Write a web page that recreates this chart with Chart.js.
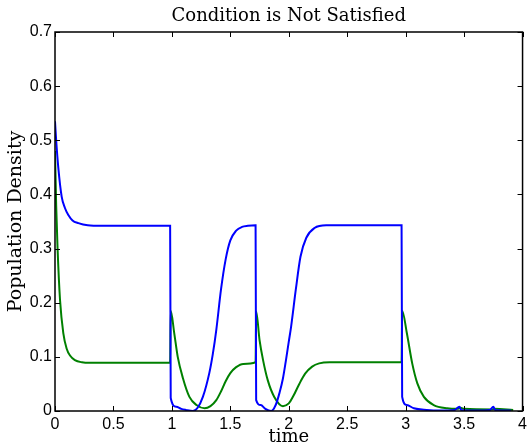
<!DOCTYPE html>
<html>
<head>
<meta charset="utf-8">
<script src="https://cdn.jsdelivr.net/npm/chart.js@4.4.0/dist/chart.umd.min.js"></script>
<style>
  html, body { margin: 0; padding: 0; background: #fff; }
  canvas { display: block; }
</style>
</head>
<body>
<canvas id="grafico" width="531" height="445"></canvas>
<script>
// tiempos y valores
const blueT = [0, 0.01, 0.028, 0.057, 0.085, 0.114, 0.15, 0.2, 0.28, 0.4, 0.985,
  0.99, 1.037, 1.08, 1.12, 1.18, 1.22, 1.265, 1.32, 1.35, 1.38, 1.42, 1.46, 1.5, 1.55, 1.6, 1.65, 1.716,
  1.721, 1.76, 1.8, 1.85, 1.89, 1.92, 1.95, 1.976, 2.0, 2.02, 2.06, 2.1, 2.15, 2.22, 2.32, 2.965,
  2.97, 3.01, 3.07, 3.18, 3.3, 3.42, 3.46, 3.475, 3.6, 3.72, 3.75, 3.765, 3.9];
const blueY = [0.535, 0.5, 0.45, 0.396, 0.375, 0.362, 0.352, 0.347, 0.343, 0.342, 0.342,
  0.024, 0.008, 0.004, 0.002, 0.0, 0.006, 0.026, 0.07, 0.105, 0.15, 0.224, 0.28, 0.315, 0.333, 0.34, 0.342, 0.343,
  0.02, 0.011, 0.004, 0.0, 0.012, 0.033, 0.06, 0.094, 0.128, 0.156, 0.224, 0.285, 0.32, 0.338, 0.343, 0.343,
  0.026, 0.011, 0.005, 0.002, 0.001, 0.002, 0.008, 0.002, 0.001, 0.002, 0.008, 0.002, 0.001];

const greenT = [0, 0.01, 0.022, 0.043, 0.071, 0.1, 0.13, 0.17, 0.23, 0.3, 0.985,
  0.99, 1.02, 1.05, 1.094, 1.15, 1.21, 1.28, 1.33, 1.38, 1.42, 1.46, 1.5, 1.55, 1.61, 1.716,
  1.721, 1.75, 1.78, 1.82, 1.876, 1.95, 2.0, 2.04, 2.09, 2.14, 2.2, 2.26, 2.35, 2.965,
  2.97, 3.01, 3.056, 3.1, 3.156, 3.24, 3.355, 3.45, 3.47, 3.5, 3.75, 3.76, 3.92];
const greenY = [0.48, 0.38, 0.3, 0.205, 0.144, 0.115, 0.102, 0.094, 0.09, 0.089, 0.089,
  0.185, 0.144, 0.1, 0.061, 0.026, 0.011, 0.005, 0.009, 0.02, 0.036, 0.055, 0.07, 0.081, 0.087, 0.09,
  0.184, 0.131, 0.094, 0.057, 0.026, 0.009, 0.014, 0.028, 0.05, 0.069, 0.082, 0.088, 0.09, 0.09,
  0.185, 0.144, 0.088, 0.051, 0.026, 0.011, 0.005, 0.004, 0.006, 0.004, 0.003, 0.004, 0.002];

const xTicks = [0, 0.5, 1, 1.5, 2, 2.5, 3, 3.5, 4];
const yTicks = [0, 0.1, 0.2, 0.3, 0.4, 0.5, 0.6, 0.7];

function puntos(ts, ys) {
  return ts.map((t, i) => ({ x: t, y: ys[i] }));
}

// marco tipo matlab con ticks hacia adentro en los 4 lados
const marco = {
  id: 'marco',
  afterDraw(chart) {
    const ctx = chart.ctx;
    const a = chart.chartArea;
    const sx = chart.scales.x;
    const sy = chart.scales.y;
    ctx.save();
    ctx.strokeStyle = '#000';
    ctx.lineWidth = 1;
    ctx.beginPath();
    xTicks.forEach(v => {
      const px = Math.round(sx.getPixelForValue(v)) + 0.5;
      ctx.moveTo(px, a.bottom); ctx.lineTo(px, a.bottom - 5);
      ctx.moveTo(px, a.top); ctx.lineTo(px, a.top + 5);
    });
    yTicks.forEach(v => {
      const py = Math.round(sy.getPixelForValue(v)) + 0.5;
      ctx.moveTo(a.left, py); ctx.lineTo(a.left + 5, py);
      ctx.moveTo(a.right, py); ctx.lineTo(a.right - 5, py);
    });
    ctx.stroke();
    ctx.lineWidth = 1.5;
    ctx.strokeRect(a.left, a.top, a.right - a.left, a.bottom - a.top);
    ctx.restore();
  }
};

const serif = "'DejaVu Serif', serif";
const sans = "'Liberation Sans', Arial, sans-serif";

new Chart(document.getElementById('grafico'), {
  type: 'scatter',
  data: {
    datasets: [
      {
        data: puntos(blueT, blueY),
        showLine: true,
        borderColor: '#0000ff',
        borderWidth: 2,
        pointRadius: 0,
        cubicInterpolationMode: 'monotone'
      },
      {
        data: puntos(greenT, greenY),
        showLine: true,
        borderColor: '#008000',
        borderWidth: 2,
        pointRadius: 0,
        cubicInterpolationMode: 'monotone'
      }
    ]
  },
  options: {
    responsive: false,
    animation: false,
    devicePixelRatio: 1,
    layout: { padding: { left: 0, right: 6, top: 0, bottom: 0 } },
    plugins: {
      legend: { display: false },
      tooltip: { enabled: false },
      title: {
        display: true,
        fullSize: false,
        text: 'Condition is Not Satisfied',
        color: '#000',
        font: { family: serif, size: 18, weight: 'normal', lineHeight: 1.2 },
        padding: { top: 6, bottom: 4.4 }
      }
    },
    scales: {
      x: {
        type: 'linear',
        min: 0,
        max: 4,
        afterFit(s) { s.height = 34; },
        afterBuildTicks(s) { s.ticks = xTicks.map(v => ({ value: v })); },
        grid: { display: false, drawTicks: false },
        border: { display: false },
        ticks: {
          color: '#000',
          font: { family: sans, size: 16 },
          padding: 4,
          maxRotation: 0,
          autoSkip: false,
          callback: v => String(v)
        },
        title: {
          display: true,
          text: 'time',
          color: '#000',
          font: { family: serif, size: 18, lineHeight: 0.8 },
          padding: { top: 0, bottom: 0 }
        }
      },
      y: {
        type: 'linear',
        min: 0,
        max: 0.7,
        afterFit(s) { s.width = 55; },
        afterBuildTicks(s) { s.ticks = yTicks.map(v => ({ value: v })); },
        grid: { display: false, drawTicks: false },
        border: { display: false },
        ticks: {
          color: '#000',
          font: { family: sans, size: 16 },
          padding: 3,
          autoSkip: false,
          callback: v => String(v)
        },
        title: {
          display: true,
          text: 'Population Density',
          color: '#000',
          font: { family: serif, size: 19, lineHeight: 1.2 },
          padding: { top: 5, bottom: 0 }
        }
      }
    }
  },
  plugins: [marco]
});
</script>
</body>
</html>
